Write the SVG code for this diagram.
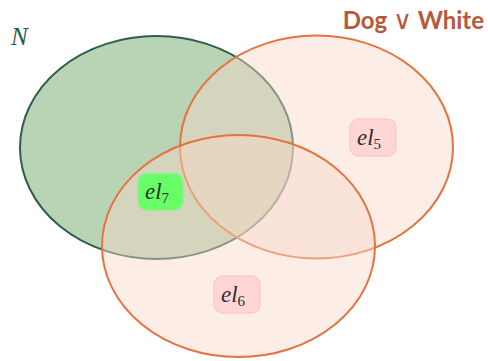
<svg xmlns="http://www.w3.org/2000/svg" width="488" height="361" viewBox="0 0 488 361">
<style>
.set-n{fill:#b9d4b4;stroke:#2f5d4e;stroke-width:2}
.set-o{fill:#f8d8c8;fill-opacity:0.45;stroke:#e4733f;stroke-width:2}
.lbl{font-family:"Liberation Serif","DejaVu Serif",serif;font-style:italic;font-size:23px;fill:#2e2e2e}
.sub{font-family:"Liberation Serif","DejaVu Serif",serif;font-style:normal;font-size:15px;fill:#2e2e2e}
.box-g{fill:#66ff66;stroke:#8cef8c;stroke-width:1.5}
.box-p{fill:#ffd6d6;stroke:#ffc8c8;stroke-width:1.5}
</style>
<rect width="488" height="361" fill="#ffffff"/>
<g id="set-N"><ellipse class="set-n" cx="156.5" cy="147.5" rx="136.5" ry="111.5"/></g>
<g id="set-dog"><ellipse class="set-o" cx="316.5" cy="147" rx="136.5" ry="111.5"/></g>
<g id="set-white"><ellipse class="set-o" cx="238.5" cy="246" rx="136.5" ry="111"/></g>
<g id="title-N"><text x="11" y="45" font-family="Liberation Serif, DejaVu Serif, serif" font-style="italic" font-size="25" fill="#2a5a4a">N</text></g>
<g id="title-dog"><text x="484" y="29" text-anchor="end" font-family="Lato, 'DejaVu Sans', sans-serif" font-weight="bold" font-size="24" fill="#b5593a">Dog <tspan font-weight="normal" font-family="'DejaVu Sans', sans-serif" font-size="26">∨</tspan> White</text></g>
<g id="el7"><rect class="box-g" x="138" y="173.5" width="45" height="36.5" rx="9"/><text class="lbl" x="145" y="199">el<tspan class="sub" dy="4">7</tspan></text></g>
<g id="el5"><rect class="box-p" x="350" y="119" width="46" height="37" rx="9"/><text class="lbl" x="357" y="145">el<tspan class="sub" dy="4">5</tspan></text></g>
<g id="el6"><rect class="box-p" x="214" y="276" width="46" height="37" rx="9"/><text class="lbl" x="221" y="302">el<tspan class="sub" dy="4">6</tspan></text></g>
<g id="connectors"></g>
</svg>
